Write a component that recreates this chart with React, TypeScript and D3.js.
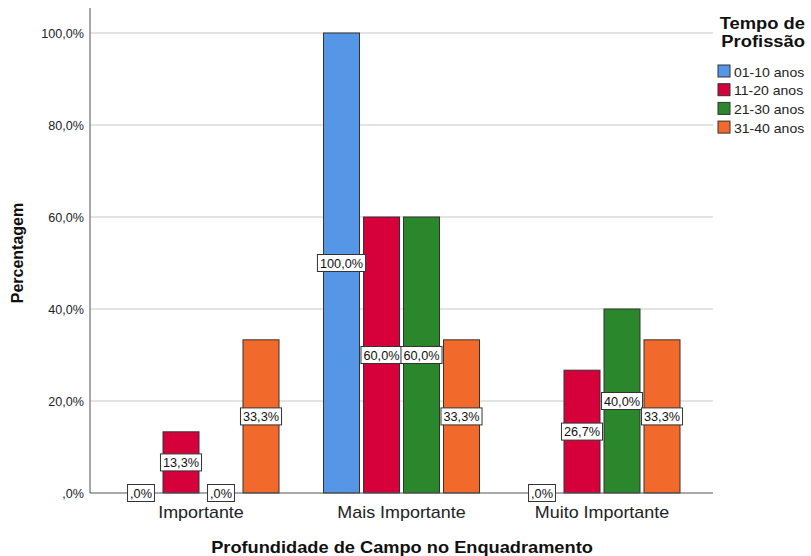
import React from "react";
import * as d3 from "d3";

const categories = ["Importante", "Mais Importante", "Muito Importante"];
const seriesNames = ["01-10 anos", "11-20 anos", "21-30 anos", "31-40 anos"];
const seriesColors = ["#5596E6", "#D6003A", "#2B872B", "#F26A2B"];
// values per series, aligned with categories
const values01_10 = [0, 100, 0];
const values11_20 = [13.3, 60, 26.7];
const values21_30 = [0, 60, 40];
const values31_40 = [33.3, 33.3, 33.3];
const seriesValues = [values01_10, values11_20, values21_30, values31_40];
const yTicks = [0, 20, 40, 60, 80, 100];

const W = 811;
const H = 556;
const plotLeft = 90;
const plotRight = 713;
const plotTop = 8;
const yZero = 493;
const yMax = 33;

const font = "Arial, 'Liberation Sans', sans-serif";

const fmt = (v: number) => {
  const s = v.toFixed(1).replace(".", ",");
  return (s.startsWith("0,") ? s.slice(1) : s) + "%";
};

// approximate Arial advance widths (em)
const charW = (ch: string) => {
  if (/[0-9]/.test(ch)) return 0.556;
  if (ch === ",") return 0.278;
  if (ch === "%") return 0.889;
  return 0.556;
};
const textWidth = (s: string, size: number) => s.split("").reduce((a, c) => a + charW(c), 0) * size;

// horizontally stretched text
function SText(props: {
  x: number;
  y: number;
  sx: number;
  size: number;
  anchor?: "start" | "middle" | "end";
  bold?: boolean;
  fill?: string;
  children: React.ReactNode;
}) {
  const { x, y, sx, size, anchor = "start", bold, fill = "#222", children } = props;
  return (
    <text
      transform={`translate(${x},${y}) scale(${sx},1)`}
      textAnchor={anchor}
      fontSize={size}
      fontWeight={bold ? "bold" : "normal"}
      fill={fill}
      fontFamily={font}
    >
      {children}
    </text>
  );
}

export default function App() {
  const y = d3.scaleLinear().domain([0, 100]).range([yZero, yMax]);
  const x0 = d3.scaleBand<string>().domain(categories).range([100.75, 702.25]).paddingInner(0).paddingOuter(0);
  const groupW = 156;
  const x1 = d3
    .scaleBand<string>()
    .domain(seriesNames)
    .range([0, groupW])
    .paddingInner(0.1)
    .paddingOuter(0);

  const lblSize = 12;
  const lblSx = 1.06;

  const bars: React.ReactNode[] = [];
  const labels: React.ReactNode[] = [];
  categories.forEach((c, ci) => {
    const gx = (x0(c) as number) + x0.bandwidth() / 2 - groupW / 2;
    seriesNames.forEach((s, si) => {
      const v = seriesValues[si][ci];
      const bx = gx + (x1(s) as number);
      const bw = x1.bandwidth();
      if (v > 0) {
        bars.push(
          <rect
            key={`b-${ci}-${si}`}
            x={bx}
            y={y(v)}
            width={bw}
            height={yZero - y(v)}
            fill={seriesColors[si]}
            stroke="#333"
            strokeWidth={1}
          />
        );
      }
      const txt = fmt(v);
      const cy = v > 0 ? (y(v) + yZero) / 2 : yZero;
      const tw = textWidth(txt, lblSize) * lblSx + 5;
      const cx = bx + bw / 2;
      labels.push(
        <g key={`l-${ci}-${si}`}>
          <rect x={cx - tw / 2} y={cy - 8.5} width={tw} height={17} fill="#fff" stroke="#333" strokeWidth={1} />
          <SText x={cx} y={cy + 4.5} sx={lblSx} size={lblSize} anchor="middle" fill="#111">
            {txt}
          </SText>
        </g>
      );
    });
  });

  return (
    <svg width={W} height={H} style={{ position: "absolute", left: 0, top: 0, background: "#fff" }}>
      {yTicks
        .filter((t) => t > 0)
        .map((t) => (
          <line key={`g${t}`} x1={plotLeft} x2={plotRight} y1={y(t)} y2={y(t)} stroke="#c8c8c8" strokeWidth={1} />
        ))}
      {yTicks.map((t) => (
        <SText key={`t${t}`} x={84} y={y(t) + 4.5} sx={1.05} size={12} anchor="end">
          {fmt(t)}
        </SText>
      ))}
      {bars}
      <line x1={plotLeft} x2={plotLeft} y1={plotTop} y2={yZero} stroke="#8a8a8a" strokeWidth={1.5} />
      <line x1={plotLeft} x2={plotRight} y1={yZero} y2={yZero} stroke="#555" strokeWidth={1} />
      {labels}
      {categories.map((c) => (
        <SText key={c} x={(x0(c) as number) + x0.bandwidth() / 2} y={518} sx={1.12} size={16} anchor="middle">
          {c}
        </SText>
      ))}
      <SText x={402} y={553} sx={1.14} size={16} anchor="middle" bold fill="#111">
        Profundidade de Campo no Enquadramento
      </SText>
      <text
        transform={`translate(23,${253}) rotate(-90)`}
        textAnchor="middle"
        fontSize={16}
        fontWeight="bold"
        fill="#111"
        fontFamily={font}
      >
        Percentagem
      </text>
      <SText x={805} y={29} sx={1.08} size={17} anchor="end" bold fill="#111">
        Tempo de
      </SText>
      <SText x={805} y={47} sx={1.08} size={17} anchor="end" bold fill="#111">
        Profissão
      </SText>
      {seriesNames.map((s, i) => (
        <g key={s} transform={`translate(718,${65 + i * 18.7})`}>
          <rect x={0} y={0} width={12} height={12} fill={seriesColors[i]} stroke="#333" strokeWidth={1} />
          <SText x={16} y={11.5} sx={1.04} size={13.5}>
            {s}
          </SText>
        </g>
      ))}
    </svg>
  );
}
